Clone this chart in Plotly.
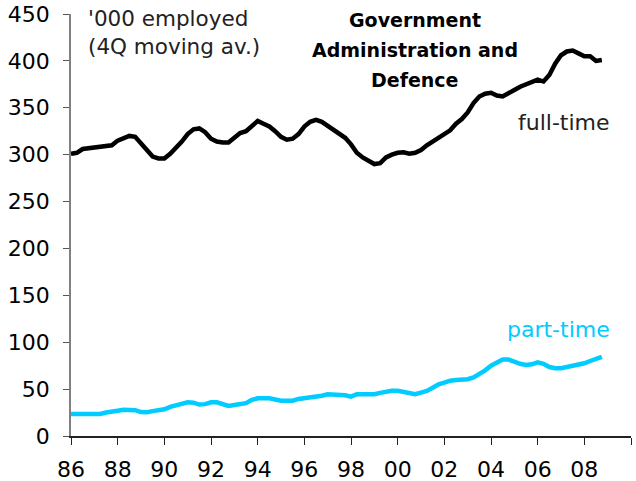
import plotly.graph_objects as go

start_year = 1986
full_time = [301, 302, 306, 307, 308, 309, 309, 310,
             315, 318, 320, 319, 312, 305, 298, 296,
             296, 301, 307, 314, 322, 327, 328, 324,
             317, 314, 313, 313, 318, 323, 325, 330,
             336, 333, 330, 325, 319, 316, 317, 322,
             330, 335, 337, 335, 331, 326, 323, 318,
             311, 302, 297, 293, 290, 291, 297, 300,
             302, 302.5, 301, 302, 305, 310, 314, 319,
             323, 326, 333, 338, 345, 355, 362, 365,
             366, 363, 362, 366, 369, 372.5, 375, 378,
             380, 378, 385, 397, 406, 410, 411, 408,
             405, 405, 400, 401]
part_time = [23.5, 23.5, 23.5, 23.5, 23.5, 23.5, 25, 25.5,
             27, 28, 28, 27.5, 25.5, 25.3, 26.5, 27.7,
             28.5, 31, 33, 35, 36, 35.5, 33.5, 34,
             36, 36, 34.5, 32, 33, 34, 35, 38.5,
             40.2, 40.2, 40.2, 39, 37.6, 37.6, 37.6, 39.5,
             40.2, 41, 42.7, 43, 44.5, 44.5, 44.5, 43.5,
             42, 44.5, 44.5, 44.5, 44.5, 46, 47.5, 48.3,
             48.3, 47, 45, 44.5, 46.3, 48, 51.5, 55,
             57, 59, 59.7, 59.7, 60.5, 62.5, 66, 70,
             75, 78, 81.5, 81.5, 79, 77, 75.7, 76.5,
             78.6, 77, 73.5, 72.2, 72.2, 73.5, 75.5, 76.5,
             77.5, 80, 82, 84.5]
quarters = [start_year + i / 4 for i in range(len(full_time))]

x_tick_years = list(range(1986, 2011, 2))
x_tick_labels = ["86", "88", "90", "92", "94", "96", "98", "00", "02", "04", "06", "08", ""]
y_ticks = list(range(0, 451, 50))

fig = go.Figure()
fig.add_trace(go.Scatter(x=quarters, y=full_time, mode="lines",
                         line=dict(color="#000000", width=4.5), name="full-time"))
fig.add_trace(go.Scatter(x=quarters, y=part_time, mode="lines",
                         line=dict(color="#00CCFF", width=4.5), name="part-time"))

font_main = "DejaVu Sans"
fig.update_layout(
    width=636, height=481,
    margin=dict(l=71, r=5, t=14, b=45, autoexpand=False),
    plot_bgcolor="white", paper_bgcolor="white",
    showlegend=False,
    font=dict(family=font_main, size=21, color="black"),
)
fig.update_xaxes(range=[1986, 2010], tickvals=x_tick_years, ticktext=x_tick_labels,
                 showgrid=False, zeroline=False, showline=True, linecolor="#222222",
                 linewidth=1.5, ticks="outside", ticklen=7, tickcolor="#222222",
                 ticklabelstandoff=6, automargin=False,
                 tickfont=dict(family=font_main, size=22, color="black"))
fig.update_yaxes(range=[0, 450], tickvals=y_ticks, showgrid=False, zeroline=False,
                 showline=True, linecolor="#808080", linewidth=1.5, ticks="outside",
                 ticklen=6, tickcolor="#555555", ticklabelstandoff=9, automargin=False,
                 tickfont=dict(family=font_main, size=22, color="black"))

fig.add_annotation(xref="x", yref="paper", x=1986.64, y=1.024, xanchor="left", yanchor="top",
                   text="'000 employed<br>(4Q moving av.)", showarrow=False, align="left",
                   font=dict(family=font_main, size=21.5, color="#222222"))
for txt, yv in [("Government", 443.6), ("Administration and", 411.6), ("Defence", 379.6)]:
    fig.add_annotation(xref="x", yref="y", x=2000.76, y=yv,
                       xanchor="center", yanchor="middle", text="<b>%s</b>" % txt,
                       showarrow=False,
                       font=dict(family=font_main, size=19, color="black"))
fig.add_annotation(xref="x", yref="y", x=2009.2, y=333.8, xanchor="right", yanchor="middle",
                   text="full-time", showarrow=False,
                   font=dict(family=font_main, size=22, color="#222222"))
fig.add_annotation(xref="x", yref="y", x=2009.2, y=114.1, xanchor="right", yanchor="middle",
                   text="part-time", showarrow=False,
                   font=dict(family=font_main, size=22, color="#00CCFF"))

fig.write_html("out.html", config={"displayModeBar": False},
               post_script="document.body.style.margin='0';")
